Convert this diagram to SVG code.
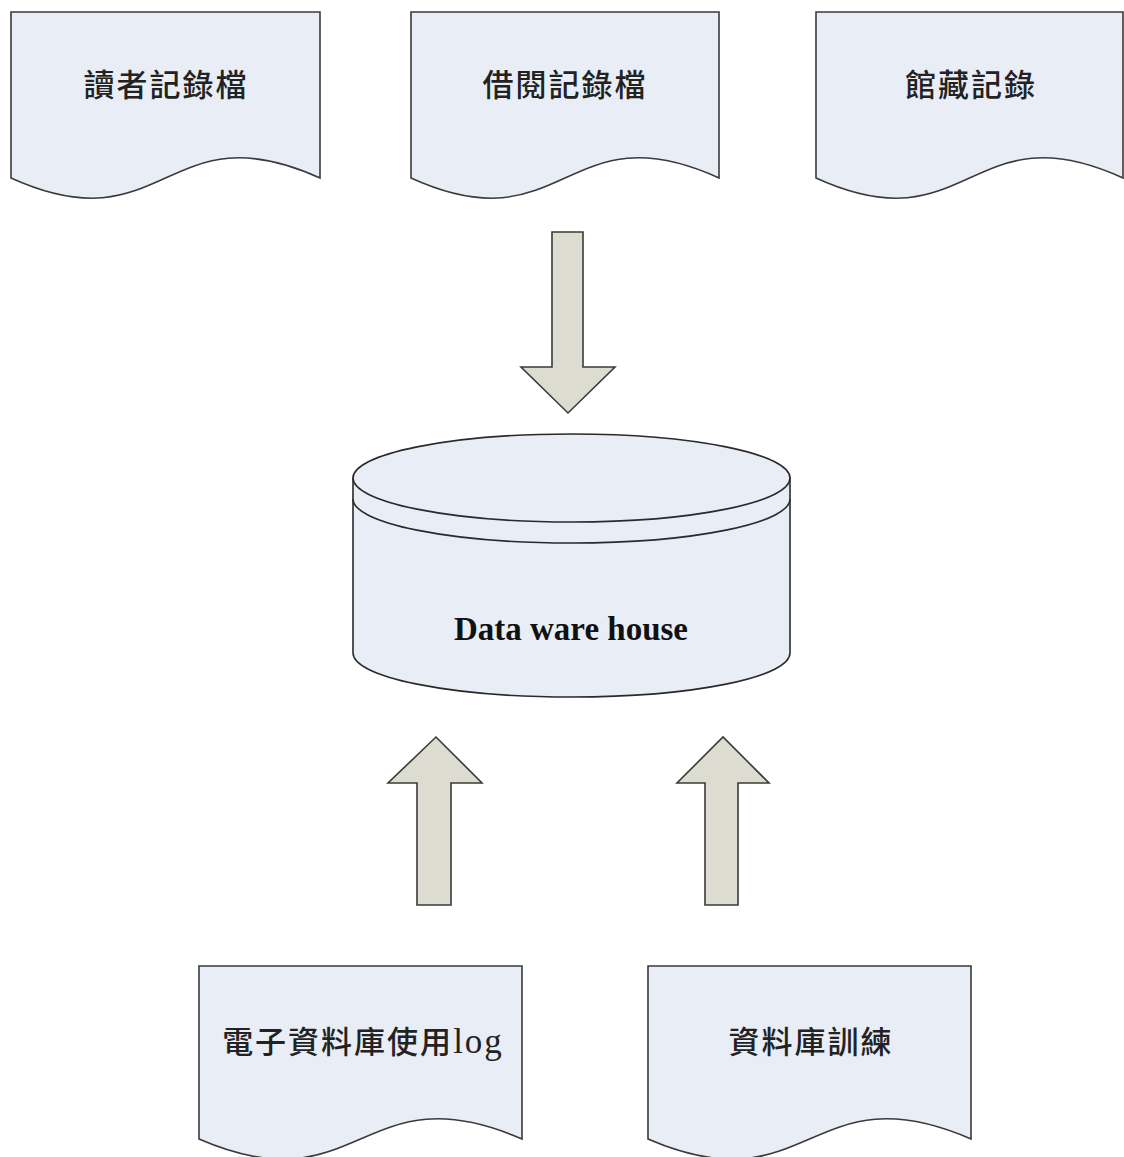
<svg xmlns="http://www.w3.org/2000/svg" width="1124" height="1157" viewBox="0 0 1124 1157">
<style>
.doc{fill:#E8EDF6;stroke:#3a3a3a;stroke-width:1.6}
.arr{fill:#DCDDD0;stroke:#3a3a3a;stroke-width:1.6;stroke-linejoin:miter}
.cyl{fill:#E8EDF6;stroke:#2a2a2a;stroke-width:1.6}
.rim{fill:none;stroke:#2a2a2a;stroke-width:1.6}
.cjk{font-family:"Noto Sans CJK TC","Noto Sans CJK SC",sans-serif;font-size:31px;fill:#222;text-anchor:middle;font-weight:500;letter-spacing:2px}
.lat{font-family:"Liberation Serif","Noto Sans CJK TC",serif;font-size:33px;fill:#111;text-anchor:middle}
</style>
<rect width="1124" height="1157" fill="#fff"/>
<g id="doc-reader">
<path class="doc" d="M11,12 H320 V178 C165.5,108 165.5,248 11,178 Z"/>
<text class="cjk" x="166" y="96">讀者記錄檔</text>
</g>
<g id="doc-borrow">
<path class="doc" d="M411,12 H719 V178 C565,108 565,248 411,178 Z"/>
<text class="cjk" x="565" y="96">借閱記錄檔</text>
</g>
<g id="doc-collection">
<path class="doc" d="M816,12 H1123 V178 C969.5,108 969.5,248 816,178 Z"/>
<text class="cjk" x="971" y="96">館藏記錄</text>
</g>
<g id="warehouse">
<path class="cyl" d="M353,478 V653 A218.5,44 0 0 0 790,653 V478 Z"/>
<ellipse class="cyl" cx="571.5" cy="478" rx="218.5" ry="44"/>
<path class="rim" d="M353,499 A218.5,44 0 0 0 790,499"/>
<text class="lat" x="571" y="640" font-weight="bold">Data ware house</text>
</g>
<g id="doc-elog">
<path class="doc" d="M199,966 H522 V1139 C360.5,1069 360.5,1209 199,1139 Z"/>
<text class="cjk" x="363" y="1053"><tspan>電子資料庫使用</tspan><tspan font-family="Liberation Serif,serif" font-size="35">log</tspan></text>
</g>
<g id="doc-training">
<path class="doc" d="M648,966 H971 V1139 C809.5,1069 809.5,1209 648,1139 Z"/>
<text class="cjk" x="811" y="1053">資料庫訓練</text>
</g>
<g id="connectors">
<path class="arr" d="M552,232 H583 V367 H615 L568,413 L521,367 H552 Z"/>
<path class="arr" d="M417,905 V783 H388 L436,737 L482,783 H451 V905 Z"/>
<path class="arr" d="M705,905 V783 H677 L723,737 L769,783 H738 V905 Z"/>
</g>
</svg>
